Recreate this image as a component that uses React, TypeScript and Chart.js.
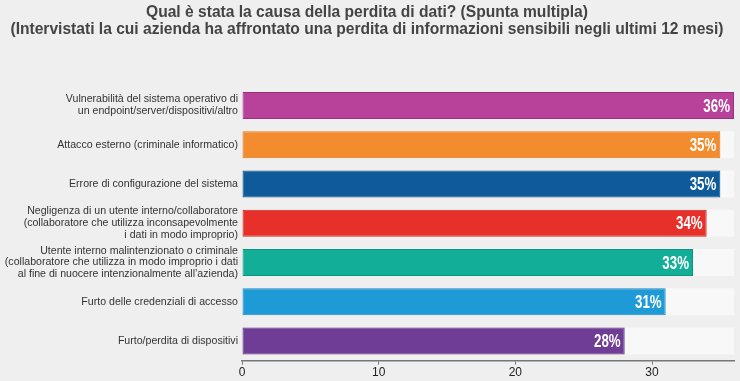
import React, { useEffect, useRef } from "react";
import { Chart, registerables } from "chart.js";

Chart.register(...registerables);

const titleLines = [
  "Qual è stata la causa della perdita di dati? (Spunta multipla)",
  "(Intervistati la cui azienda ha affrontato una perdita di informazioni sensibili negli ultimi 12 mesi)",
];

const categories: string[][] = [
  ["Vulnerabilità del sistema operativo di", "un endpoint/server/dispositivi/altro"],
  ["Attacco esterno (criminale informatico)"],
  ["Errore di configurazione del sistema"],
  [
    "Negligenza di un utente interno/collaboratore",
    "(collaboratore che utilizza inconsapevolmente",
    "i dati in modo improprio)",
  ],
  [
    "Utente interno malintenzionato o criminale",
    "(collaboratore che utilizza in modo improprio i dati",
    "al fine di nuocere intenzionalmente all’azienda)",
  ],
  ["Furto delle credenziali di accesso"],
  ["Furto/perdita di dispositivi"],
];

const values = [36, 35, 35, 34, 33, 31, 28];

const barColors = ["#b8429a", "#f28c2e", "#0e5a9a", "#e8302b", "#12ae98", "#1e9ad6", "#6f3d95"];
const barBorders = ["#9a2f7f", "#d9761c", "#0a4a80", "#c8221e", "#0c9580", "#1784ba", "#4f2a72"];

const axisMax = 36;
const trackValues = categories.map(() => axisMax);
const xTicks = [0, 10, 20, 30];

const labelPlugin = {
  id: "valueLabels",
  afterDatasetsDraw(chart: any) {
    const ctx = chart.ctx;
    const meta = chart.getDatasetMeta(0);
    const sx = 0.72;
    ctx.save();
    ctx.fillStyle = "#ffffff";
    ctx.font = "bold 18.5px 'Liberation Sans', Arial, sans-serif";
    ctx.textAlign = "right";
    ctx.textBaseline = "middle";
    meta.data.forEach((bar: any, i: number) => {
      ctx.save();
      ctx.translate(bar.x - 4, bar.y + 1);
      ctx.scale(sx, 1);
      ctx.fillText(values[i] + "%", 0, 0);
      ctx.restore();
    });
    ctx.restore();
  },
};

export default function App() {
  const ref = useRef<HTMLCanvasElement | null>(null);

  useEffect(() => {
    document.body.style.margin = "0";
    const canvas = ref.current!;
    const chart = new Chart(canvas, {
      type: "bar",
      data: {
        labels: categories,
        datasets: [
          {
            data: values,
            backgroundColor: barColors,
            borderColor: barBorders,
            borderWidth: 1,
            borderSkipped: false,
            grouped: false,
            order: 0,
            categoryPercentage: 1,
            barPercentage: 0.69,
          },
          {
            data: trackValues,
            backgroundColor: "#f8f8f8",
            borderWidth: 0,
            grouped: false,
            order: 1,
            categoryPercentage: 1,
            barPercentage: 0.69,
          },
        ],
      },
      options: {
        indexAxis: "y",
        responsive: false,
        animation: false,
        layout: { padding: { top: 0, right: 6, bottom: 0, left: 0 } },
        plugins: {
          legend: { display: false },
          tooltip: { enabled: false },
          title: {
            display: true,
            text: titleLines,
            color: "#444444",
            font: { size: 15.6, weight: "bold", family: "'Liberation Sans', Arial, sans-serif", lineHeight: 1.1 },
            padding: { top: 4, bottom: 47.5 },
          },
        },
        scales: {
          x: {
            min: 0,
            max: axisMax,
            afterBuildTicks(scale: any) {
              scale.ticks = xTicks.map((v) => ({ value: v }));
            },
            grid: { display: true, drawOnChartArea: false, drawTicks: true, tickLength: 4, color: "#777" },
            border: { display: true, color: "#777", width: 1.5 },
            ticks: { color: "#222", font: { size: 12 }, padding: 1 },
          },
          y: {
            grid: { display: false, drawTicks: false },
            border: { display: false },
            ticks: {
              autoSkip: false,
              color: "#333",
              font: { size: 10.6, lineHeight: 1.12, family: "'Liberation Sans', Arial, sans-serif" },
              padding: 4,
            },
            afterFit(scale: any) {
              scale.width = 242;
            },
          },
        },
      },
      plugins: [labelPlugin],
    });
    return () => chart.destroy();
  }, []);

  return (
    <div style={{ width: 740, height: 381, background: "#efefef" }}>
      <canvas ref={ref} width={740} height={381} style={{ display: "block" }} />
    </div>
  );
}
